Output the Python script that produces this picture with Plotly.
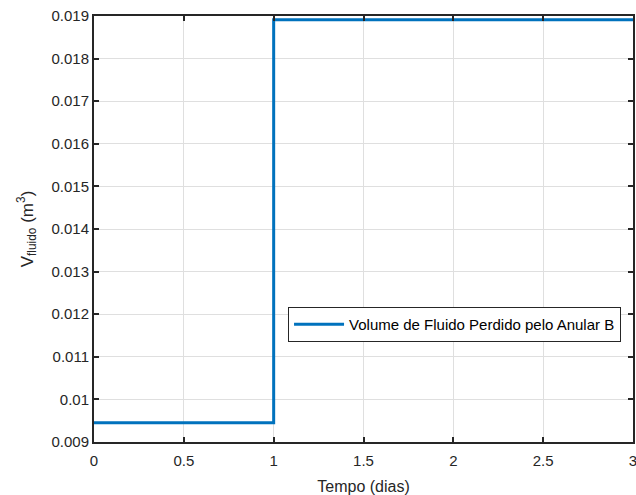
import plotly.graph_objects as go

tempo_dias = [0, 1, 3]
volume_m3 = [0.00945, 0.01891, 0.01891]
x_ticks = [0, 0.5, 1, 1.5, 2, 2.5, 3]
x_tick_labels = ["0", "0.5", "1", "1.5", "2", "2.5", "3"]
y_ticks = [0.009, 0.010, 0.011, 0.012, 0.013, 0.014, 0.015, 0.016, 0.017, 0.018, 0.019]
y_tick_labels = ["0.009", "0.01", "0.011", "0.012", "0.013", "0.014", "0.015",
                 "0.016", "0.017", "0.018", "0.019"]
serie_nome = "Volume de Fluido Perdido pelo Anular B"

FONT = "Liberation Sans, Arial, sans-serif"

fig = go.Figure()
fig.add_trace(go.Scatter(
    x=tempo_dias, y=volume_m3, mode="lines", name=serie_nome,
    line=dict(color="#0072BD", width=3, shape="hv"),
))

axis_common = dict(
    showgrid=True, gridcolor="#DFDFDF", gridwidth=1,
    showline=True, linecolor="#262626", linewidth=2, mirror="ticks",
    ticks="inside", ticklen=5, tickwidth=1.5, tickcolor="#262626",
    zeroline=False, automargin=False, ticklabeloverflow="allow",
    tickfont=dict(family=FONT, size=15, color="#262626"),
)

fig.update_layout(
    width=636, height=495,
    margin=dict(l=94, r=3, t=16, b=53),
    paper_bgcolor="white", plot_bgcolor="white",
    font=dict(family=FONT, color="#262626"),
    showlegend=True,
    legend=dict(
        x=0.36, y=0.317, xanchor="left", yanchor="top",
        bgcolor="white", bordercolor="#262626", borderwidth=1,
        font=dict(family=FONT, size=15, color="#000000"),
        itemwidth=50, tracegroupgap=0,
    ),
    xaxis=dict(
        range=[0, 3], tickvals=x_ticks, ticktext=x_tick_labels,
        ticklabelstandoff=4,
        title=dict(text="Tempo (dias)", font=dict(family=FONT, size=16, color="#262626"), standoff=14),
        **axis_common,
    ),
    yaxis=dict(
        range=[0.009, 0.019], tickvals=y_ticks, ticktext=y_tick_labels,
        title=dict(text="V<sub>fluido</sub> (m<sup>3</sup>)", font=dict(family=FONT, size=17, color="#262626"), standoff=14),
        **axis_common,
    ),
)

fig.write_html(
    "out.html",
    config={"displayModeBar": False},
    post_script="document.body.style.margin='0';document.body.style.padding='0';document.body.style.overflow='hidden';",
)
